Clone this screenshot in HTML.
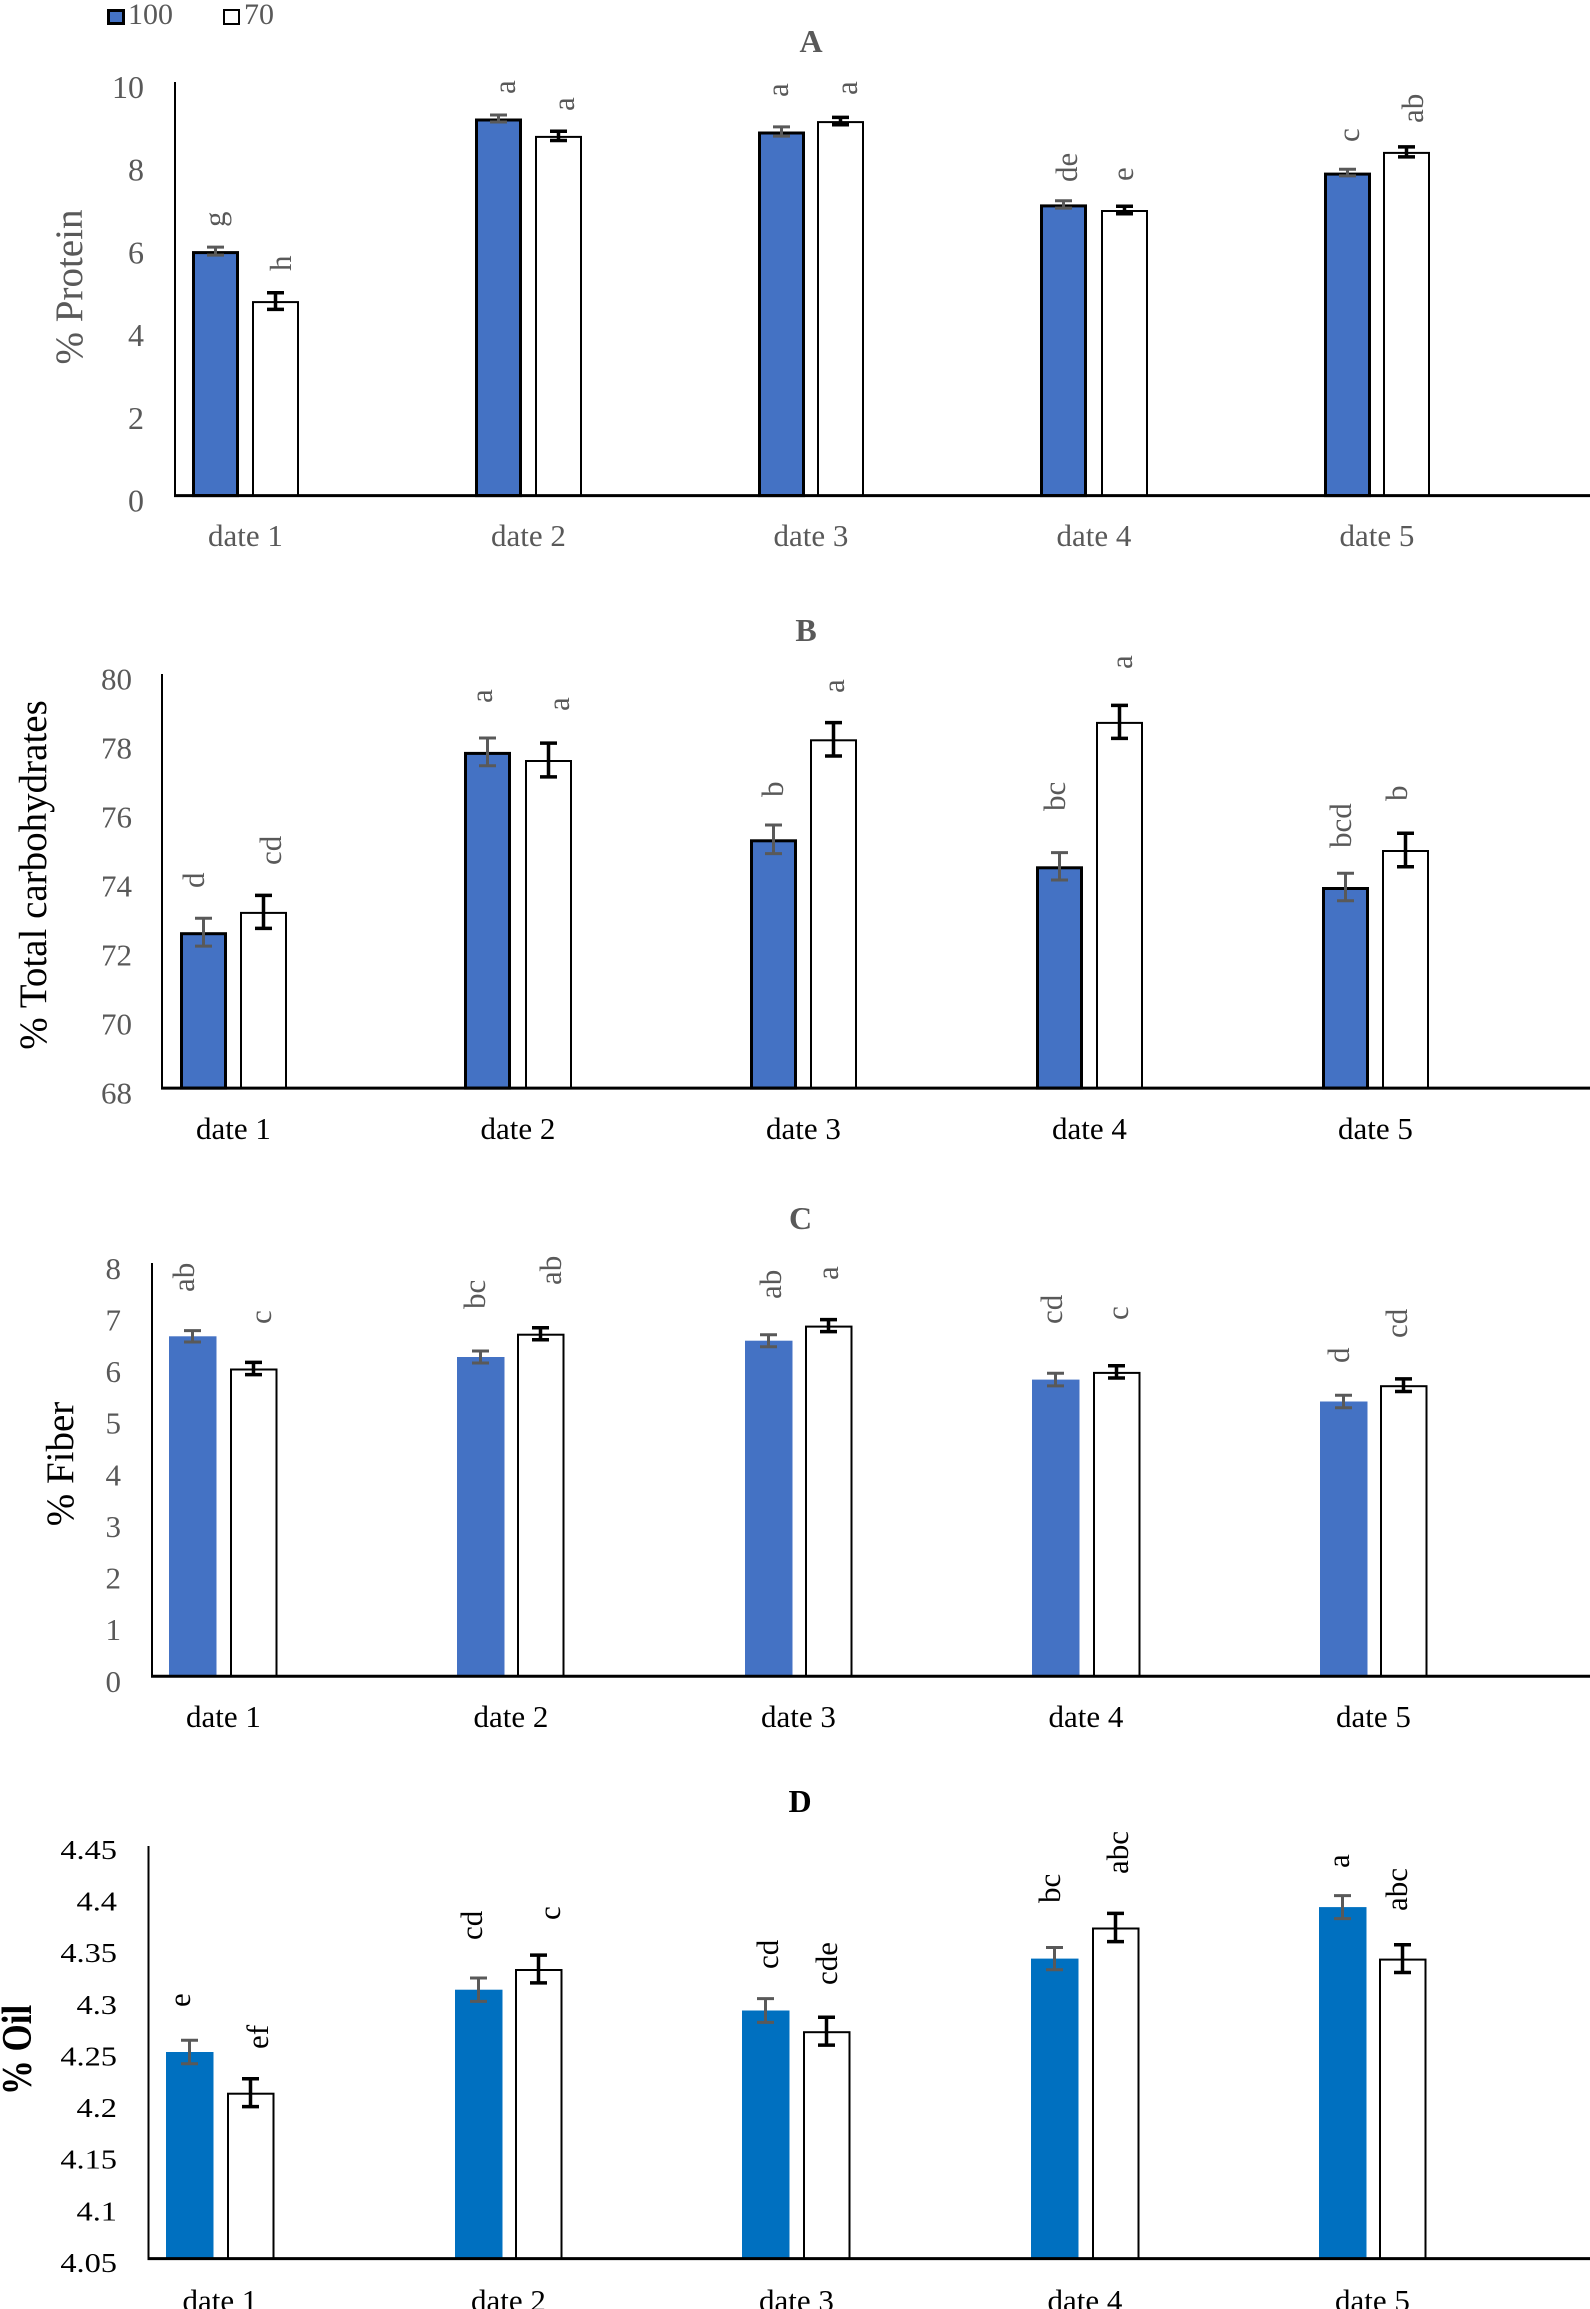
<!DOCTYPE html>
<html><head><meta charset="utf-8"><style>
html,body{margin:0;padding:0;background:#fff;}
svg{display:block;}
text{font-family:"Liberation Serif","Times New Roman",serif;}
.g{fill:#595959;}
.k{fill:#000;}
.t{font-size:31px;}
.dl{font-size:31px;}
.ttl{font-size:32px;font-weight:bold;}
</style></head><body>
<svg width="1590" height="2309" viewBox="0 0 1590 2309" xmlns="http://www.w3.org/2000/svg">
<rect width="1590" height="2309" fill="#fff"/>

<!-- Legend -->
<rect x="108.5" y="10.5" width="15" height="13" fill="#4472C4" stroke="#000" stroke-width="3"/>
<text x="128" y="24" class="g" font-size="30">100</text>
<rect x="224" y="10" width="15" height="14" fill="#fff" stroke="#000" stroke-width="2"/>
<text x="244" y="24" class="g" font-size="30">70</text>

<!-- ================= CHART A ================= -->
<text x="811" y="52" class="g ttl" text-anchor="middle">A</text>
<text transform="translate(82,287) rotate(-90)" class="g" font-size="39" text-anchor="middle">% Protein</text>
<g class="g" font-size="32" text-anchor="end">
<text x="144" y="511.6">0</text>
<text x="144" y="428.9">2</text>
<text x="144" y="346.2">4</text>
<text x="144" y="263.4">6</text>
<text x="144" y="180.7">8</text>
<text x="144" y="98">10</text>
</g>
<g fill="#4472C4" stroke="#000" stroke-width="3">
<rect x="193.5" y="252.6" width="44" height="243"/>
<rect x="476.5" y="120" width="44" height="375.6"/>
<rect x="759.5" y="133" width="44" height="362.6"/>
<rect x="1041.5" y="205.9" width="44" height="289.7"/>
<rect x="1325.5" y="174.1" width="44" height="321.5"/>
</g>
<g fill="#fff" stroke="#000" stroke-width="2">
<rect x="253" y="302.1" width="45" height="193.5"/>
<rect x="536" y="136.9" width="45" height="358.7"/>
<rect x="818" y="122.1" width="45" height="373.5"/>
<rect x="1102" y="211" width="45" height="284.6"/>
<rect x="1384" y="152.9" width="45" height="342.7"/>
</g>
<g stroke="#595959" stroke-width="3" fill="none">
<path d="M215.5 247.1V255.1M207 247.1H224M207 255.1H224"/>
<path d="M498.5 115V122M490 115H507M490 122H507"/>
<path d="M781.5 126.9V136.1M773 126.9H790M773 136.1H790"/>
<path d="M1063.5 200.7V208.1M1055 200.7H1072M1055 208.1H1072"/>
<path d="M1347.5 169.3V175.9M1339 169.3H1356M1339 175.9H1356"/>
</g>
<g stroke="#000" stroke-width="3.5" fill="none">
<path d="M275.5 292.8V309.4M267 292.8H284M267 309.4H284"/>
<path d="M558.5 131.3V140.5M550 131.3H567M550 140.5H567"/>
<path d="M840.5 117.4V124.8M832 117.4H849M832 124.8H849"/>
<path d="M1124.5 206.3V213.7M1116 206.3H1133M1116 213.7H1133"/>
<path d="M1406.5 146.9V156.9M1398 146.9H1415M1398 156.9H1415"/>
</g>
<line x1="175" y1="82" x2="175" y2="496" stroke="#000" stroke-width="2"/>
<line x1="174" y1="495.6" x2="1590" y2="495.6" stroke="#000" stroke-width="3"/>
<g class="g dl">
<text transform="translate(225,227) rotate(-90)">g</text>
<text transform="translate(291,271) rotate(-90)">h</text>
<text transform="translate(515,94) rotate(-90)">a</text>
<text transform="translate(574,111) rotate(-90)">a</text>
<text transform="translate(788,97) rotate(-90)">a</text>
<text transform="translate(857,95) rotate(-90)">a</text>
<text transform="translate(1077,182) rotate(-90)">de</text>
<text transform="translate(1133,181) rotate(-90)">e</text>
<text transform="translate(1359,142) rotate(-90)">c</text>
<text transform="translate(1423,123) rotate(-90)">ab</text>
</g>
<g class="g t" text-anchor="middle">
<text x="245.5" y="546">date 1</text>
<text x="528.5" y="546">date 2</text>
<text x="811" y="546">date 3</text>
<text x="1094" y="546">date 4</text>
<text x="1377" y="546">date 5</text>
</g>

<!-- ================= CHART B ================= -->
<text x="806" y="641" class="g ttl" text-anchor="middle">B</text>
<text transform="translate(46,875) rotate(-90)" class="k" font-size="39" text-anchor="middle">% Total carbohydrates</text>
<g class="g t" text-anchor="end">
<text x="132" y="1103.6">68</text>
<text x="132" y="1034.6">70</text>
<text x="132" y="965.6">72</text>
<text x="132" y="896.6">74</text>
<text x="132" y="827.6">76</text>
<text x="132" y="758.6">78</text>
<text x="132" y="689.6">80</text>
</g>
<g fill="#4472C4" stroke="#000" stroke-width="3">
<rect x="181.5" y="933.7" width="44" height="154.4"/>
<rect x="465.5" y="753.4" width="44" height="334.7"/>
<rect x="751.5" y="840.8" width="44" height="247.3"/>
<rect x="1037.5" y="867.8" width="44" height="220.3"/>
<rect x="1323.5" y="888.5" width="44" height="199.6"/>
</g>
<g fill="#fff" stroke="#000" stroke-width="2">
<rect x="241" y="912.9" width="45" height="175.2"/>
<rect x="526" y="761" width="45" height="327.1"/>
<rect x="811" y="740.3" width="45" height="347.8"/>
<rect x="1097" y="722.9" width="45" height="365.2"/>
<rect x="1383" y="851" width="45" height="237.1"/>
</g>
<g stroke="#595959" stroke-width="3" fill="none">
<path d="M203.5 918.3V946.1M195 918.3H212M195 946.1H212"/>
<path d="M487.5 738V765.8M479 738H496M479 765.8H496"/>
<path d="M773.5 825V853.6M765 825H782M765 853.6H782"/>
<path d="M1059.5 852.6V880M1051 852.6H1068M1051 880H1068"/>
<path d="M1345.5 873.3V900.7M1337 873.3H1354M1337 900.7H1354"/>
</g>
<g stroke="#000" stroke-width="3.5" fill="none">
<path d="M263.5 895.4V928.4M255 895.4H272M255 928.4H272"/>
<path d="M548.5 743.1V776.9M540 743.1H557M540 776.9H557"/>
<path d="M833.5 722.6V756M825 722.6H842M825 756H842"/>
<path d="M1119.5 705.4V738.4M1111 705.4H1128M1111 738.4H1128"/>
<path d="M1405.5 833.3V866.7M1397 833.3H1414M1397 866.7H1414"/>
</g>
<line x1="162" y1="674" x2="162" y2="1089" stroke="#000" stroke-width="2"/>
<line x1="161" y1="1088.1" x2="1590" y2="1088.1" stroke="#000" stroke-width="3"/>
<g class="g dl">
<text transform="translate(204,888) rotate(-90)">d</text>
<text transform="translate(281,865) rotate(-90)">cd</text>
<text transform="translate(492,703) rotate(-90)">a</text>
<text transform="translate(569,711) rotate(-90)">a</text>
<text transform="translate(783,797) rotate(-90)">b</text>
<text transform="translate(844,693) rotate(-90)">a</text>
<text transform="translate(1065,811) rotate(-90)">bc</text>
<text transform="translate(1132,669) rotate(-90)">a</text>
<text transform="translate(1351,848) rotate(-90)">bcd</text>
<text transform="translate(1407,801) rotate(-90)">b</text>
</g>
<g class="k t" text-anchor="middle">
<text x="233.5" y="1139">date 1</text>
<text x="518" y="1139">date 2</text>
<text x="803.5" y="1139">date 3</text>
<text x="1089.5" y="1139">date 4</text>
<text x="1375.5" y="1139">date 5</text>
</g>

<!-- ================= CHART C ================= -->
<text x="800.5" y="1229" class="g ttl" text-anchor="middle">C</text>
<text transform="translate(73,1464) rotate(-90)" class="k" font-size="39" text-anchor="middle">% Fiber</text>
<g class="g t" text-anchor="end">
<text x="121" y="1691.8">0</text>
<text x="121" y="1640.2">1</text>
<text x="121" y="1588.5">2</text>
<text x="121" y="1536.9">3</text>
<text x="121" y="1485.3">4</text>
<text x="121" y="1433.7">5</text>
<text x="121" y="1382">6</text>
<text x="121" y="1330.4">7</text>
<text x="121" y="1278.8">8</text>
</g>
<g fill="#4472C4">
<rect x="169" y="1336.3" width="47.5" height="340"/>
<rect x="457" y="1357" width="47.5" height="319.3"/>
<rect x="745" y="1340.7" width="47.5" height="335.6"/>
<rect x="1032" y="1379.6" width="47.5" height="296.7"/>
<rect x="1320" y="1401.5" width="47.5" height="274.8"/>
</g>
<g fill="#fff" stroke="#000" stroke-width="2">
<rect x="231" y="1369.5" width="45.5" height="306.8"/>
<rect x="518" y="1334.7" width="45.5" height="341.6"/>
<rect x="806" y="1326.6" width="45.5" height="349.7"/>
<rect x="1094" y="1372.9" width="45.5" height="303.4"/>
<rect x="1381" y="1386.2" width="45.5" height="290.1"/>
</g>
<g stroke="#595959" stroke-width="3" fill="none">
<path d="M192.5 1330.6V1342M184 1330.6H201M184 1342H201"/>
<path d="M480.5 1351V1363M472 1351H489M472 1363H489"/>
<path d="M768.5 1334.7V1346.7M760 1334.7H777M760 1346.7H777"/>
<path d="M1055.5 1373.3V1385.9M1047 1373.3H1064M1047 1385.9H1064"/>
<path d="M1343.5 1395.2V1407.8M1335 1395.2H1352M1335 1407.8H1352"/>
</g>
<g stroke="#000" stroke-width="3.5" fill="none">
<path d="M253.5 1362.4V1374.6M245 1362.4H262M245 1374.6H262"/>
<path d="M540.5 1327.7V1339.7M532 1327.7H549M532 1339.7H549"/>
<path d="M828.5 1319.6V1331.6M820 1319.6H837M820 1331.6H837"/>
<path d="M1116.5 1365.8V1378M1108 1365.8H1125M1108 1378H1125"/>
<path d="M1403.5 1378.9V1391.5M1395 1378.9H1412M1395 1391.5H1412"/>
</g>
<line x1="152" y1="1263" x2="152" y2="1677" stroke="#000" stroke-width="2"/>
<line x1="151" y1="1676.3" x2="1590" y2="1676.3" stroke="#000" stroke-width="3"/>
<g class="g dl">
<text transform="translate(194,1292) rotate(-90)">ab</text>
<text transform="translate(271,1324) rotate(-90)">c</text>
<text transform="translate(485,1309) rotate(-90)">bc</text>
<text transform="translate(561,1285) rotate(-90)">ab</text>
<text transform="translate(781,1299) rotate(-90)">ab</text>
<text transform="translate(838,1280) rotate(-90)">a</text>
<text transform="translate(1062,1324) rotate(-90)">cd</text>
<text transform="translate(1128,1320) rotate(-90)">c</text>
<text transform="translate(1349,1363) rotate(-90)">d</text>
<text transform="translate(1407,1338) rotate(-90)">cd</text>
</g>
<g class="k t" text-anchor="middle">
<text x="223.5" y="1727">date 1</text>
<text x="511" y="1727">date 2</text>
<text x="798.5" y="1727">date 3</text>
<text x="1086" y="1727">date 4</text>
<text x="1373.5" y="1727">date 5</text>
</g>

<!-- ================= CHART D ================= -->
<text x="800" y="1812" class="k ttl" text-anchor="middle">D</text>
<text transform="translate(31,2050) scale(1.2,1) rotate(-90)" class="k" font-size="35" font-weight="bold" text-anchor="middle">% Oil</text>
<g class="k" font-size="27" text-anchor="end" transform="translate(117,0) scale(1.2,1)">
<text x="0" y="2272">4.05</text>
<text x="0" y="2220.4">4.1</text>
<text x="0" y="2168.7">4.15</text>
<text x="0" y="2117.1">4.2</text>
<text x="0" y="2065.5">4.25</text>
<text x="0" y="2013.8">4.3</text>
<text x="0" y="1962.2">4.35</text>
<text x="0" y="1910.5">4.4</text>
<text x="0" y="1858.9">4.45</text>
</g>
<g fill="#0070C0">
<rect x="166" y="2052" width="47.5" height="206.6"/>
<rect x="455" y="1989.7" width="47.5" height="268.9"/>
<rect x="742" y="2010.5" width="47.5" height="248.1"/>
<rect x="1031" y="1958.6" width="47.5" height="300"/>
<rect x="1319" y="1907.1" width="47.5" height="351.5"/>
</g>
<g fill="#fff" stroke="#000" stroke-width="2">
<rect x="228" y="2093.7" width="45.5" height="164.9"/>
<rect x="516" y="1970" width="45.5" height="288.6"/>
<rect x="804" y="2032.2" width="45.5" height="226.4"/>
<rect x="1093" y="1928.5" width="45.5" height="330.1"/>
<rect x="1380" y="1959.6" width="45.5" height="299"/>
</g>
<g stroke="#595959" stroke-width="3" fill="none">
<path d="M189.5 2040.3V2063.7M181 2040.3H198M181 2063.7H198"/>
<path d="M478.5 1978V2001.4M470 1978H487M470 2001.4H487"/>
<path d="M765.5 1998.6V2022.4M757 1998.6H774M757 2022.4H774"/>
<path d="M1054.5 1947.5V1969.7M1046 1947.5H1063M1046 1969.7H1063"/>
<path d="M1342.5 1895.6V1918.6M1334 1895.6H1351M1334 1918.6H1351"/>
</g>
<g stroke="#000" stroke-width="3.5" fill="none">
<path d="M250.5 2078.8V2106.6M242 2078.8H259M242 2106.6H259"/>
<path d="M538.5 1955.1V1982.9M530 1955.1H547M530 1982.9H547"/>
<path d="M826.5 2017.3V2045.1M818 2017.3H835M818 2045.1H835"/>
<path d="M1115.5 1913.4V1941.6M1107 1913.4H1124M1107 1941.6H1124"/>
<path d="M1402.5 1944.7V1972.5M1394 1944.7H1411M1394 1972.5H1411"/>
</g>
<line x1="148.5" y1="1846" x2="148.5" y2="2259" stroke="#000" stroke-width="2"/>
<line x1="147.5" y1="2258.6" x2="1590" y2="2258.6" stroke="#000" stroke-width="3"/>
<g class="k dl">
<text transform="translate(190,2007) rotate(-90)">e</text>
<text transform="translate(268,2049) rotate(-90)">ef</text>
<text transform="translate(482,1940) rotate(-90)">cd</text>
<text transform="translate(560,1920) rotate(-90)">c</text>
<text transform="translate(778,1969) rotate(-90)">cd</text>
<text transform="translate(837,1985) rotate(-90)">cde</text>
<text transform="translate(1060,1903) rotate(-90)">bc</text>
<text transform="translate(1128,1874) rotate(-90)">abc</text>
<text transform="translate(1349,1868) rotate(-90)">a</text>
<text transform="translate(1407,1911) rotate(-90)">abc</text>
</g>
<g class="k t" text-anchor="middle">
<text x="220" y="2311">date 1</text>
<text x="508.5" y="2311">date 2</text>
<text x="796.5" y="2311">date 3</text>
<text x="1085" y="2311">date 4</text>
<text x="1372.5" y="2311">date 5</text>
</g>
</svg>
</body></html>
